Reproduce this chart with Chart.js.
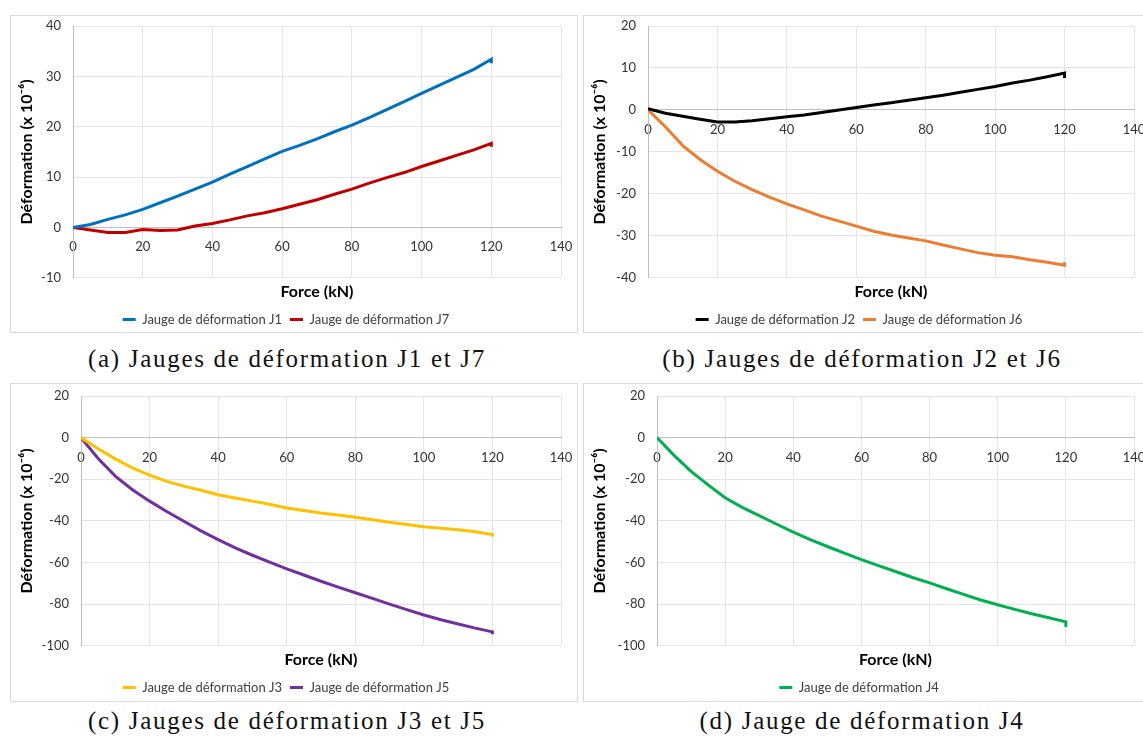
<!DOCTYPE html>
<html>
<head>
<meta charset="utf-8">
<script src="https://cdn.jsdelivr.net/npm/chart.js"></script>
<style>
  html, body { margin: 0; padding: 0; background: #fff; overflow: hidden; width: 1143px; height: 746px; }
  .panel { position: absolute; border: 1px solid #d9d9d9; background: #fff; width: 566px; height: 316px; overflow: hidden; }
  .panel canvas { display: block; }
  .caption { position: absolute; width: 560px; text-align: center; font-family: "Liberation Serif", serif; font-size: 25px; letter-spacing: 1.7px; color: #111; }
</style>
</head>
<body>
<div class="panel" style="left:10px; top:15px;"><canvas id="chartA" width="566" height="320"></canvas></div>
<div class="panel" style="left:583px; top:15px;"><canvas id="chartB" width="566" height="320"></canvas></div>
<div class="panel" style="left:10px; top:383px; height:317px;"><canvas id="chartC" width="566" height="320"></canvas></div>
<div class="panel" style="left:583px; top:383px; height:317px;"><canvas id="chartD" width="566" height="320"></canvas></div>

<div class="caption" style="left:7px; top:345px;">(a) Jauges de déformation J1 et J7</div>
<div class="caption" style="left:582px; top:345px;">(b) Jauges de déformation J2 et J6</div>
<div class="caption" style="left:7px; top:707px;">(c) Jauges de déformation J3 et J5</div>
<div class="caption" style="left:582px; top:707px;">(d) Jauge de déformation J4</div>

<script>
// Force (kN) - last 120 repeated for the small end tick of each record
const force = [0, 5, 10, 15, 20, 25, 30, 35, 40, 45, 50, 55, 60, 65, 70, 75, 80, 85, 90, 95, 100, 105, 110, 115, 120, 120];

// Deformation (x 10^-6) per gauge
const j1 = [0, 0.6, 1.6, 2.5, 3.6, 4.9, 6.2, 7.6, 9.0, 10.6, 12.1, 13.6, 15.1, 16.3, 17.6, 19.0, 20.3, 21.8, 23.4, 25.0, 26.6, 28.2, 29.8, 31.4, 33.4, 32.6];
const j7 = [0, -0.5, -1.0, -1.0, -0.4, -0.6, -0.5, 0.3, 0.8, 1.5, 2.3, 2.9, 3.7, 4.6, 5.5, 6.6, 7.6, 8.8, 9.9, 10.9, 12.1, 13.2, 14.3, 15.4, 16.7, 16.0];
const j2 = [0.3, -0.8, -1.5, -2.2, -2.9, -2.9, -2.6, -2.1, -1.6, -1.2, -0.6, 0.0, 0.6, 1.2, 1.7, 2.3, 2.9, 3.5, 4.2, 4.9, 5.6, 6.4, 7.1, 7.9, 8.8, 7.6];
const j6 = [0, -4.0, -8.5, -11.8, -14.6, -17.0, -19.0, -20.8, -22.4, -23.8, -25.3, -26.5, -27.7, -28.9, -29.8, -30.5, -31.2, -32.2, -33.1, -34.0, -34.6, -35.0, -35.7, -36.3, -37.0, -36.3];
const j3 = [0, -5.3, -10.2, -14.5, -18.0, -21.0, -23.3, -25.3, -27.4, -29.0, -30.5, -32.0, -33.8, -35.0, -36.2, -37.2, -38.3, -39.5, -40.6, -41.7, -42.8, -43.5, -44.2, -45.2, -46.5, -47.5];
const j5 = [0, -10.0, -18.5, -25.0, -30.5, -35.5, -40.2, -44.8, -49.0, -53.0, -56.5, -59.8, -63.0, -66.0, -69.0, -71.8, -74.5, -77.2, -80.0, -82.6, -85.2, -87.5, -89.5, -91.5, -93.3, -94.5];
const j4 = [0, -8.5, -16.2, -22.7, -28.9, -33.5, -37.5, -41.5, -45.4, -49.0, -52.3, -55.5, -58.6, -61.5, -64.3, -67.2, -69.8, -72.6, -75.3, -78.0, -80.3, -82.5, -84.6, -86.5, -88.5, -91.0];

const xTicks = { min: 0, max: 140, step: 20 };

const textFont = 'Lato, "Open Sans", sans-serif';
const gridColor = '#e4e4e4';
const axisColor = '#bfbfbf';

function makeChart(canvasId, series, yMin, yMax, yStep, yWidth, padTop) {
    const ctx = document.getElementById(canvasId).getContext('2d');
    return new Chart(ctx, {
        type: 'line',
        data: {
            datasets: series.map(s => ({
                label: s.label,
                data: force.map((f, i) => ({ x: f, y: s.values[i] })),
                borderColor: s.color,
                backgroundColor: s.color,
                borderWidth: 3,
                pointRadius: 0,
                tension: 0
            }))
        },
        options: {
            responsive: false,
            animation: false,
            layout: { padding: { top: padTop, right: 16, left: 0, bottom: 0 } },
            plugins: {
                tooltip: { enabled: false },
                legend: {
                    position: 'bottom',
                    labels: {
                        usePointStyle: true,
                        pointStyle: 'line',
                        pointStyleWidth: 13,
                        padding: 8,
                        color: '#404040',
                        font: { family: textFont, size: 13 }
                    }
                },
                title: {
                    display: true,
                    text: 'Force (kN)',
                    position: 'bottom',
                    fullSize: false,
                    weight: 500,
                    color: '#000',
                    padding: { top: 4, bottom: 4 },
                    font: { family: textFont, size: 16, weight: 'bold' }
                }
            },
            scales: {
                x: {
                    type: 'linear',
                    position: { y: 0 },
                    min: xTicks.min,
                    max: xTicks.max,
                    afterFit: scale => {
                        scale.paddingLeft = 0;
                        scale.paddingRight = 0;
                    },
                    grid: { color: gridColor, drawTicks: false },
                    border: { color: axisColor },
                    ticks: {
                        stepSize: xTicks.step,
                        padding: 12,
                        color: '#333',
                        font: { family: textFont, size: 13 }
                    }
                },
                y: {
                    min: yMin,
                    max: yMax,
                    afterFit: scale => {
                        scale.width = yWidth;
                        scale.paddingTop = 0;
                        scale.paddingBottom = 0;
                    },
                    grid: { color: gridColor, drawTicks: false },
                    border: { color: axisColor },
                    ticks: {
                        stepSize: yStep,
                        padding: 12,
                        color: '#333',
                        font: { family: textFont, size: 13 }
                    },
                    title: {
                        display: true,
                        text: 'Déformation (x 10⁻⁶)',
                        color: '#000',
                        padding: { top: 6, bottom: 0 },
                        font: { family: textFont, size: 16, weight: 'bold' }
                    }
                }
            }
        }
    });
}

makeChart('chartA', [
    { label: 'Jauge de déformation J1', values: j1, color: '#0070C0' },
    { label: 'Jauge de déformation J7', values: j7, color: '#C00000' }
], -10, 40, 10, 62, 10);

makeChart('chartB', [
    { label: 'Jauge de déformation J2', values: j2, color: '#000000' },
    { label: 'Jauge de déformation J6', values: j6, color: '#ED7D31' }
], -40, 20, 10, 64, 10);

makeChart('chartC', [
    { label: 'Jauge de déformation J3', values: j3, color: '#FFC000' },
    { label: 'Jauge de déformation J5', values: j5, color: '#7030A0' }
], -100, 20, 20, 70, 12);

makeChart('chartD', [
    { label: 'Jauge de déformation J4', values: j4, color: '#00B050' }
], -100, 20, 20, 73, 12);
</script>
</body>
</html>
